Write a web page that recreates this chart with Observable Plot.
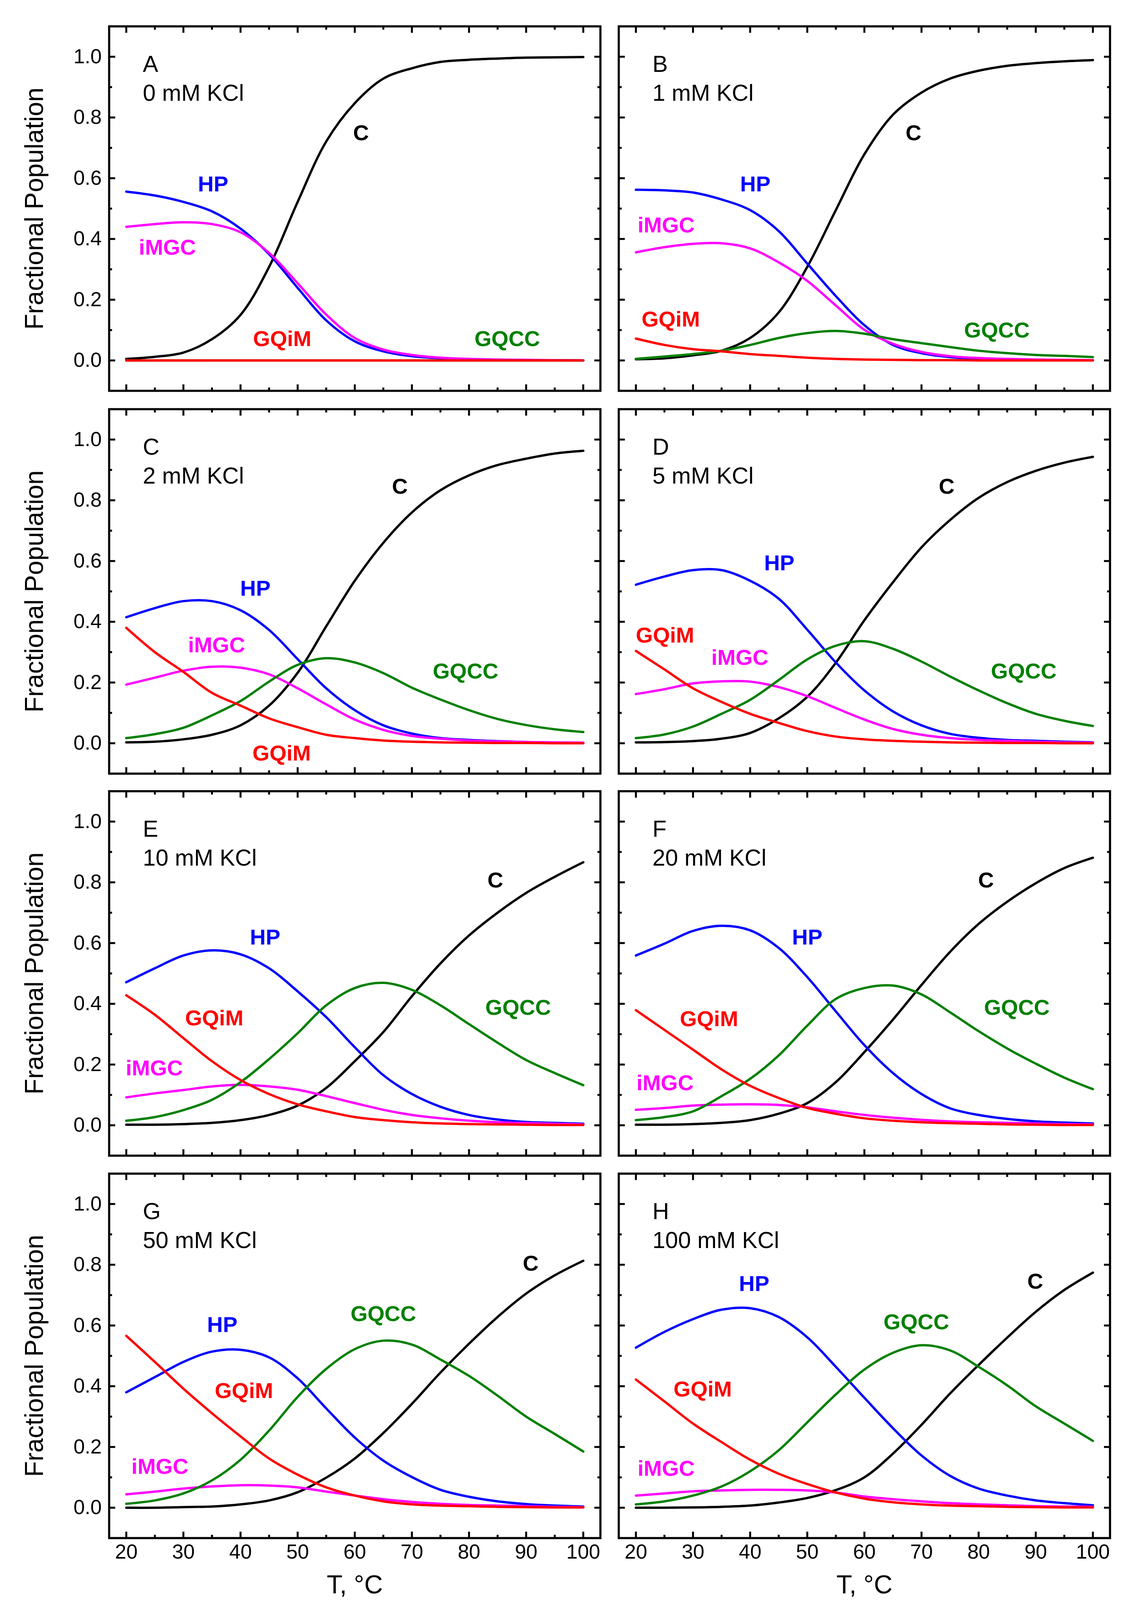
<!DOCTYPE html>
<html>
<head>
<meta charset="utf-8">
<script src="https://cdn.jsdelivr.net/npm/d3@7"></script>
<script src="https://cdn.jsdelivr.net/npm/@observablehq/plot@0.6"></script>
<style>
  html, body { margin: 0; padding: 0; background: #fff; }
  #page { position: relative; width: 2886px; height: 4151px; background: #fff; overflow: hidden; }
  .panel { position: absolute; }
</style>
</head>
<body>
<div id="page"></div>
<script>
// Temperature grid (°C)
const T = [20, 25, 30, 35, 40, 45, 50, 55, 60, 65, 70, 75, 80, 85, 90, 95, 100];

// Tick values
const xMajor = [20, 30, 40, 50, 60, 70, 80, 90, 100];
const xMinor = [25, 35, 45, 55, 65, 75, 85, 95];
const yMajor = [0, 0.2, 0.4, 0.6, 0.8, 1.0];
const yMinor = [0.1, 0.3, 0.5, 0.7, 0.9];

// Panel A: 0 mM KCl
const C_A    = [0.005,0.012,0.026,0.070,0.150,0.308,0.522,0.721,0.847,0.928,0.962,0.983,0.990,0.994,0.997,0.998,0.999];
const HP_A   = [0.556,0.543,0.522,0.491,0.434,0.350,0.239,0.132,0.063,0.030,0.014,0.007,0.004,0.002,0.001,0.001,0.000];
const iMGC_A = [0.440,0.449,0.455,0.449,0.422,0.354,0.254,0.151,0.074,0.036,0.018,0.009,0.005,0.003,0.002,0.001,0.000];
const GQCC_A = [0,0,0,0,0,0,0,0,0,0,0,0,0,0,0,0,0];
const GQiM_A = [0,0,0,0,0,0,0,0,0,0,0,0,0,0,0,0,0];

// Panel B: 1 mM KCl
const C_B    = [0.004,0.007,0.017,0.032,0.074,0.158,0.308,0.495,0.679,0.809,0.882,0.928,0.954,0.970,0.979,0.985,0.989];
const HP_B   = [0.562,0.560,0.553,0.530,0.495,0.426,0.319,0.212,0.116,0.051,0.024,0.011,0.006,0.004,0.002,0.001,0.001];
const iMGC_B = [0.356,0.373,0.384,0.386,0.369,0.323,0.262,0.181,0.101,0.055,0.028,0.014,0.008,0.005,0.003,0.002,0.001];
const GQCC_B = [0.005,0.013,0.021,0.032,0.051,0.074,0.090,0.097,0.088,0.070,0.057,0.044,0.032,0.024,0.018,0.015,0.011];
const GQiM_B = [0.072,0.051,0.037,0.030,0.021,0.015,0.009,0.005,0.003,0.002,0.001,0.001,0,0,0,0,0];

// Panel C: 2 mM KCl
const C_C    = [0.003,0.005,0.013,0.028,0.059,0.124,0.232,0.385,0.535,0.660,0.760,0.833,0.882,0.916,0.937,0.954,0.963];
const HP_C   = [0.415,0.445,0.468,0.468,0.438,0.373,0.277,0.181,0.109,0.059,0.032,0.017,0.011,0.007,0.004,0.002,0.001];
const iMGC_C = [0.193,0.216,0.239,0.252,0.249,0.227,0.181,0.128,0.078,0.044,0.024,0.015,0.009,0.006,0.004,0.003,0.002];
const GQCC_C = [0.017,0.030,0.051,0.092,0.139,0.203,0.258,0.280,0.266,0.231,0.183,0.144,0.109,0.080,0.060,0.046,0.037];
const GQiM_C = [0.380,0.300,0.235,0.166,0.124,0.082,0.053,0.028,0.017,0.009,0.005,0.003,0.002,0.001,0.001,0,0];

// Panel D: 5 mM KCl
const C_D    = [0.003,0.004,0.007,0.015,0.034,0.082,0.153,0.265,0.405,0.530,0.645,0.735,0.808,0.860,0.897,0.924,0.943];
const HP_D   = [0.522,0.549,0.570,0.570,0.535,0.476,0.374,0.266,0.174,0.105,0.059,0.031,0.018,0.011,0.008,0.005,0.003];
const iMGC_D = [0.162,0.178,0.197,0.204,0.203,0.185,0.155,0.116,0.078,0.047,0.028,0.017,0.011,0.008,0.005,0.003,0.002];
const GQCC_D = [0.017,0.029,0.055,0.097,0.143,0.208,0.276,0.321,0.336,0.311,0.269,0.220,0.174,0.132,0.097,0.074,0.057];
const GQiM_D = [0.304,0.243,0.181,0.136,0.097,0.067,0.040,0.022,0.013,0.008,0.005,0.003,0.002,0.001,0.001,0,0];

// Panel E: 10 mM KCl
const C_E    = [0.002,0.002,0.004,0.008,0.017,0.034,0.065,0.123,0.211,0.307,0.425,0.533,0.625,0.700,0.765,0.818,0.866];
const HP_E   = [0.471,0.517,0.559,0.576,0.563,0.517,0.441,0.356,0.257,0.165,0.103,0.061,0.034,0.019,0.011,0.008,0.005];
const iMGC_E = [0.092,0.105,0.116,0.128,0.133,0.128,0.117,0.096,0.073,0.051,0.034,0.023,0.015,0.010,0.007,0.005,0.003];
const GQCC_E = [0.015,0.027,0.050,0.084,0.142,0.218,0.303,0.395,0.452,0.469,0.446,0.395,0.333,0.272,0.215,0.172,0.132];
const GQiM_E = [0.428,0.364,0.287,0.211,0.149,0.103,0.069,0.046,0.027,0.017,0.010,0.006,0.004,0.003,0.002,0.001,0.001];

// Panel F: 20 mM KCl
const C_F    = [0.002,0.002,0.004,0.008,0.017,0.038,0.073,0.142,0.241,0.348,0.462,0.571,0.663,0.736,0.797,0.847,0.881];
const HP_F   = [0.559,0.598,0.640,0.657,0.642,0.584,0.488,0.375,0.264,0.172,0.103,0.056,0.034,0.021,0.013,0.009,0.006];
const iMGC_F = [0.051,0.057,0.065,0.068,0.069,0.067,0.059,0.046,0.034,0.025,0.018,0.013,0.010,0.008,0.006,0.004,0.003];
const GQCC_F = [0.017,0.027,0.046,0.096,0.153,0.230,0.328,0.416,0.452,0.460,0.431,0.372,0.310,0.253,0.203,0.157,0.119];
const GQiM_F = [0.379,0.314,0.249,0.184,0.130,0.090,0.057,0.038,0.023,0.015,0.010,0.007,0.005,0.003,0.002,0.001,0.001];

// Panel G: 50 mM KCl
const C_G    = [0,0,0.002,0.004,0.011,0.024,0.051,0.099,0.162,0.246,0.342,0.445,0.540,0.628,0.705,0.765,0.813];
const HP_G   = [0.380,0.430,0.480,0.514,0.520,0.495,0.426,0.327,0.231,0.155,0.101,0.059,0.036,0.021,0.012,0.007,0.004];
const iMGC_G = [0.044,0.053,0.063,0.070,0.074,0.073,0.067,0.053,0.040,0.028,0.019,0.013,0.009,0.007,0.005,0.003,0.002];
const GQCC_G = [0.013,0.024,0.047,0.090,0.158,0.254,0.365,0.457,0.522,0.550,0.537,0.488,0.434,0.369,0.300,0.243,0.185];
const GQiM_G = [0.566,0.480,0.392,0.311,0.235,0.162,0.109,0.067,0.040,0.021,0.011,0.007,0.005,0.003,0.002,0.001,0.001];

// Panel H: 100 mM KCl
const C_H    = [0,0,0.001,0.003,0.007,0.017,0.032,0.058,0.100,0.178,0.273,0.376,0.470,0.560,0.645,0.717,0.774];
const HP_H   = [0.527,0.579,0.621,0.652,0.657,0.628,0.561,0.464,0.362,0.262,0.172,0.105,0.063,0.040,0.024,0.015,0.008];
const iMGC_H = [0.040,0.047,0.054,0.057,0.059,0.059,0.057,0.050,0.037,0.028,0.021,0.015,0.011,0.008,0.005,0.004,0.003];
const GQCC_H = [0.011,0.021,0.040,0.070,0.120,0.189,0.281,0.373,0.455,0.510,0.535,0.518,0.464,0.403,0.334,0.277,0.220];
const GQiM_H = [0.422,0.350,0.277,0.216,0.158,0.112,0.078,0.050,0.030,0.018,0.011,0.007,0.005,0.003,0.002,0.001,0.001];

// Panel titles
const panelLetters = ["A", "B", "C", "D", "E", "F", "G", "H"];
const panelKCl = ["0 mM KCl", "1 mM KCl", "2 mM KCl", "5 mM KCl", "10 mM KCl", "20 mM KCl", "50 mM KCl", "100 mM KCl"];

// Curve labels: [text, T, fraction]
const LAB_A = [["HP",35.2,0.579],["iMGC",27.2,0.371],["C",61.1,0.748],["GQiM",47.3,0.070],["GQCC",86.7,0.070]];
const LAB_B = [["HP",40.9,0.579],["iMGC",25.3,0.445],["C",68.6,0.748],["GQiM",26.1,0.134],["GQCC",83.2,0.099]];
const LAB_C = [["HP",42.6,0.509],["iMGC",35.8,0.323],["C",67.9,0.845],["GQiM",47.2,-0.034],["GQCC",79.4,0.236]];
const LAB_D = [["HP",45.1,0.593],["GQiM",25.1,0.354],["iMGC",38.2,0.281],["C",74.4,0.845],["GQCC",87.9,0.236]];
const LAB_E = [["HP",44.3,0.618],["GQiM",35.4,0.352],["iMGC",24.9,0.188],["C",84.6,0.806],["GQCC",88.6,0.387]];
const LAB_F = [["HP",50.0,0.618],["GQiM",32.8,0.349],["iMGC",25.1,0.138],["C",81.3,0.806],["GQCC",86.7,0.387]];
const LAB_G = [["HP",36.8,0.601],["GQCC",65.0,0.637],["GQiM",40.6,0.384],["iMGC",25.9,0.134],["C",90.8,0.803]];
const LAB_H = [["HP",40.7,0.736],["GQCC",69.1,0.610],["C",89.9,0.744],["GQiM",31.7,0.389],["iMGC",25.3,0.128]];

const speciesOrder = ["C", "HP", "iMGC", "GQCC", "GQiM"];
const colors = { C: "#000000", HP: "#0000ff", iMGC: "#ff00ff", GQCC: "#008000", GQiM: "#ff0000" };

const panelSeries = [
  { C: C_A, HP: HP_A, iMGC: iMGC_A, GQCC: GQCC_A, GQiM: GQiM_A },
  { C: C_B, HP: HP_B, iMGC: iMGC_B, GQCC: GQCC_B, GQiM: GQiM_B },
  { C: C_C, HP: HP_C, iMGC: iMGC_C, GQCC: GQCC_C, GQiM: GQiM_C },
  { C: C_D, HP: HP_D, iMGC: iMGC_D, GQCC: GQCC_D, GQiM: GQiM_D },
  { C: C_E, HP: HP_E, iMGC: iMGC_E, GQCC: GQCC_E, GQiM: GQiM_E },
  { C: C_F, HP: HP_F, iMGC: iMGC_F, GQCC: GQCC_F, GQiM: GQiM_F },
  { C: C_G, HP: HP_G, iMGC: iMGC_G, GQCC: GQCC_G, GQiM: GQiM_G },
  { C: C_H, HP: HP_H, iMGC: iMGC_H, GQCC: GQCC_H, GQiM: GQiM_H }
];
const panelLabels = [LAB_A, LAB_B, LAB_C, LAB_D, LAB_E, LAB_F, LAB_G, LAB_H];

// Layout (pixels)
const FW = 1258, FH = 933;
const frameLefts = [279, 1584];
const frameTops = [67, 1047, 2025, 3004];
const FONT = "'Liberation Sans', Arial, Helvetica, sans-serif";

const page = document.getElementById("page");

panelSeries.forEach((series, i) => {
  const col = i % 2, row = Math.floor(i / 2);
  const mL = col === 0 ? 279 : 20;
  const mR = col === 0 ? 23 : 43;
  const mT = 20;
  const mB = row === 3 ? 214 : 20;
  const width = mL + FW + mR;
  const height = mT + FH + mB;

  const tickStyle = { strokeWidth: 5, tickFormat: () => "", label: null };
  const marks = [];

  // curves
  for (const s of speciesOrder) {
    const data = T.map((t, j) => ({ T: t, v: series[s][j] }));
    marks.push(Plot.line(data, { x: "T", y: "v", stroke: colors[s], strokeWidth: 6, curve: "catmull-rom" }));
  }

  // inward ticks on all four sides
  for (const anchor of ["bottom", "top"]) {
    marks.push(Plot.axisX(xMajor, { anchor, tickSize: -16, ...tickStyle }));
    marks.push(Plot.axisX(xMinor, { anchor, tickSize: -8, ...tickStyle }));
  }
  for (const anchor of ["left", "right"]) {
    marks.push(Plot.axisY(yMajor, { anchor, tickSize: -16, ...tickStyle }));
    marks.push(Plot.axisY(yMinor, { anchor, tickSize: -8, ...tickStyle }));
  }

  marks.push(Plot.frame({ stroke: "black", strokeWidth: 5.5 }));

  // tick labels
  if (col === 0) {
    marks.push(Plot.axisY(yMajor, { anchor: "left", tickSize: 0, tickPadding: 19, fontSize: 52, tickFormat: d3.format(".1f"), label: null }));
    marks.push(Plot.text(["Fractional Population"], {
      frameAnchor: "left", dx: -191, rotate: -90, fontSize: 66,
      textAnchor: "middle", lineAnchor: "middle", fill: "black"
    }));
  }
  if (row === 3) {
    marks.push(Plot.axisX(xMajor, { anchor: "bottom", tickSize: 0, tickPadding: 16, fontSize: 52, tickFormat: d => String(d), label: null }));
    marks.push(Plot.text(["T, °C"], {
      frameAnchor: "bottom", dy: 120, fontSize: 66, textAnchor: "middle", lineAnchor: "middle", fill: "black"
    }));
  }

  // panel letter and KCl concentration
  marks.push(Plot.text([{ x: 22.9, y: 0.950, t: panelLetters[i] }], {
    x: "x", y: "y", text: "t", textAnchor: "start", lineAnchor: "bottom", fontSize: 59, fill: "black"
  }));
  marks.push(Plot.text([{ x: 22.9, y: 0.855, t: panelKCl[i] }], {
    x: "x", y: "y", text: "t", textAnchor: "start", lineAnchor: "bottom", fontSize: 59, fill: "black"
  }));

  // curve labels
  for (const [txt, x, y] of panelLabels[i]) {
    marks.push(Plot.text([{ x, y, t: txt }], {
      x: "x", y: "y", text: "t", fill: colors[txt], fontWeight: "bold", fontSize: 56,
      textAnchor: "middle", lineAnchor: "middle"
    }));
  }

  const chart = Plot.plot({
    width, height,
    marginLeft: mL, marginRight: mR, marginTop: mT, marginBottom: mB,
    x: { domain: [17, 103] },
    y: { domain: [-0.1, 1.1] },
    style: { fontFamily: FONT, background: "transparent", color: "black", overflow: "visible" },
    marks
  });

  const div = document.createElement("div");
  div.className = "panel";
  div.style.left = (frameLefts[col] - mL) + "px";
  div.style.top = (frameTops[row] - mT) + "px";
  div.appendChild(chart);
  page.appendChild(div);
});
</script>
</body>
</html>
